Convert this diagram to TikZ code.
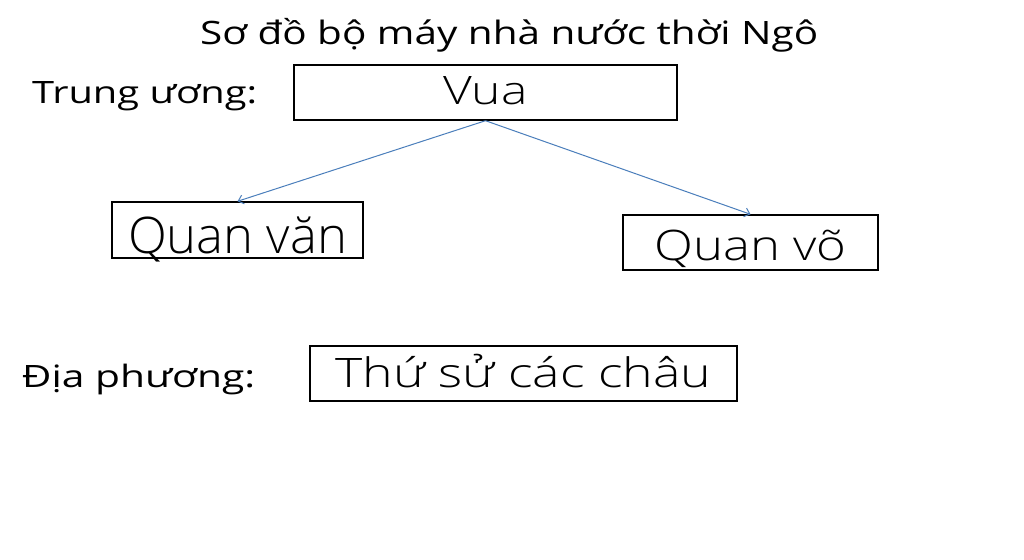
\documentclass[tikz,border=0pt]{standalone}
\usepackage{fontspec}
\setmainfont{Open Sans}
\newfontfamily\lightfont{Open Sans Light}
\usetikzlibrary{arrows.meta}
\definecolor{arrblue}{HTML}{4A7EBB}
\newsavebox\fitbox
\newdimen\fitw
\newdimen\fitc
% #1 target width, #2 target cap height, #3 text
\newcommand\fitcap[3]{%
  \sbox\fitbox{#3}%
  \fitw=\wd\fitbox
  \fitc=\fontcharht\font`T\relax
  \pgfmathsetmacro\fitsx{#1/\the\fitw}%
  \pgfmathsetmacro\fitsy{#2/\the\fitc}%
  \scalebox{\fitsx}[\fitsy]{\usebox\fitbox}}
\tikzset{
  box/.style={draw=black, line width=1.4pt, inner sep=0pt, text depth=0pt, font=\lightfont},
  lbl/.style={inner sep=0pt, text=black, anchor=base west},
  conn/.style={draw=arrblue, line width=1pt, -{Straight Barb[length=5pt,width=9pt]}}
}
\begin{document}
\begin{tikzpicture}[x=1pt,y=-1pt]
\fill[white] (0,0) rectangle (1024,559);
\useasboundingbox (0,0) rectangle (1024,559);
\node[lbl] (title) at (200,45) {\fitcap{618pt}{23pt}{Sơ đồ bộ máy nhà nước thời Ngô}};
\node[lbl] (trung) at (32,103) {\fitcap{225pt}{22pt}{Trung ương:}};
\node[lbl] (dia) at (22,387) {\fitcap{233pt}{22pt}{Địa phương:}};
\node[box, minimum width=383pt, minimum height=55pt, text height=25pt] (vua) at (485.5,92.5) {\fitcap{84pt}{28pt}{Vua}};
\node[box, minimum width=251pt, minimum height=56pt, text height=46pt] (van) at (237.5,230) {\fitcap{219pt}{36pt}{Quan văn}};
\node[box, minimum width=255pt, minimum height=55pt, text height=35pt] (vo) at (750.5,242.5) {\fitcap{192pt}{30pt}{Quan võ}};
\node[box, minimum width=427pt, minimum height=55pt, text height=27pt] (thu) at (523.5,373.5) {\fitcap{376pt}{29pt}{Thứ sử các châu}};
\draw[conn] (vua.south) -- (van.north);
\draw[conn] (vua.south) -- (vo.north);
\end{tikzpicture}
\end{document}
